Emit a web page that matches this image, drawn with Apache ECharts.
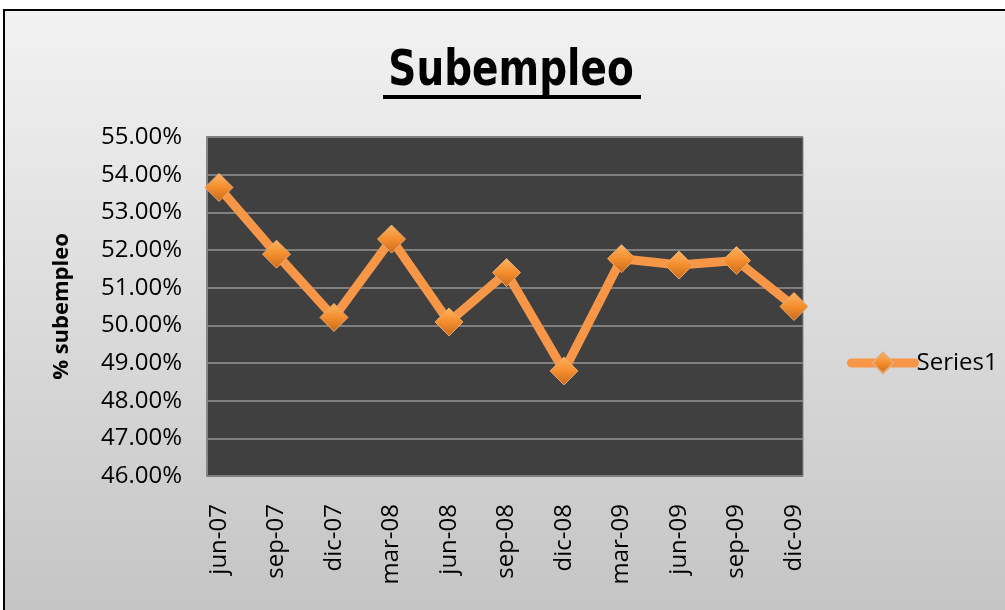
<!DOCTYPE html>
<html>
<head>
<meta charset="utf-8">
<script src="https://cdn.jsdelivr.net/npm/echarts@6/dist/echarts.min.js"></script>
<style>
html,body{margin:0;padding:0;background:#fff;}
#c{width:1005px;height:610px;}
</style>
</head>
<body>
<div id="c"></div>
<script>
const titleText = 'Subempleo';
const yAxisName = '% subempleo';
const seriesName = 'Series1';
const categories = ['jun-07','sep-07','dic-07','mar-08','jun-08','sep-08','dic-08','mar-09','jun-09','sep-09','dic-09'];
const values = [53.66, 51.89, 50.21, 52.29, 50.09, 51.40, 48.79, 51.77, 51.60, 51.72, 50.50];
const yMin = 46, yMax = 55, yStep = 1;

const chart = echarts.init(document.getElementById('c'));
const FONT = 'Open Sans';
const orange = '#F79646';

chart.setOption({
  animation: false,
  backgroundColor: '#ffffff',
  graphic: [
    {
      type: 'rect', z: -10, silent: true,
      shape: {x: 4, y: 10, width: 1010, height: 620},
      style: {
        fill: new echarts.graphic.LinearGradient(0, 0, 0, 1, [
          {offset: 0, color: '#f2f2f2'},
          {offset: 1, color: '#c3c3c3'}
        ]),
        stroke: '#000', lineWidth: 2
      }
    },
    {
      type: 'text', x: 511, y: 72, scaleY: 1.27, silent: true,
      style: {text: titleText, font: 'bold 39px "DejaVu Sans"', fill: '#000', align: 'center', verticalAlign: 'middle'}
    },
    {
      type: 'rect', silent: true,
      shape: {x: 383, y: 95, width: 258, height: 4},
      style: {fill: '#000'}
    }
  ],
  legend: {
    data: [seriesName],
    left: 842, top: 346,
    itemWidth: 63, itemHeight: 26,
    lineStyle: {width: 9, cap: 'round', color: orange},
    textStyle: {fontFamily: FONT, fontSize: 24, color: '#000', padding: [0, 0, 0, -3]}
  },
  grid: [
    {left: 207, top: 137, width: 596, height: 339, show: true, backgroundColor: '#404040', borderColor: '#858585', borderWidth: 1},
    {left: 219, top: 137, width: 575, height: 339}
  ],
  xAxis: [
    {type: 'category', gridIndex: 0, data: categories, show: false},
    {
      type: 'category', gridIndex: 1, data: categories, boundaryGap: false,
      axisLine: {show: false}, axisTick: {show: false},
      axisLabel: {rotate: 90, margin: 28, fontFamily: FONT, fontSize: 24, color: '#000', interval: 0}
    }
  ],
  yAxis: [
    {
      type: 'value', gridIndex: 0, min: yMin, max: yMax, interval: yStep,
      name: yAxisName, nameLocation: 'middle', nameGap: 134,
      nameTextStyle: {fontFamily: FONT, fontSize: 22, fontWeight: 'bold', color: '#000'},
      axisLine: {show: true, lineStyle: {color: '#858585', width: 2}},
      axisTick: {show: false},
      axisLabel: {margin: 25, fontFamily: FONT, fontSize: 24, color: '#000', formatter: v => v.toFixed(2) + '%'},
      splitLine: {show: true, lineStyle: {color: '#7f7f7f', width: 2}}
    },
    {type: 'value', gridIndex: 1, min: yMin, max: yMax, interval: yStep, show: false, splitLine: {show: false}}
  ],
  series: [{
    name: seriesName,
    type: 'line',
    xAxisIndex: 1, yAxisIndex: 1,
    data: values,
    symbol: 'diamond', symbolSize: 28,
    lineStyle: {color: orange, width: 9},
    itemStyle: {
      color: new echarts.graphic.LinearGradient(0, 0, 0, 1, [
        {offset: 0, color: '#FDB561'},
        {offset: 0.5, color: '#F48E2E'},
        {offset: 1, color: '#C9681A'}
      ]),
      borderColor: '#E9A870', borderWidth: 1
    }
  }]
});
</script>
</body>
</html>
